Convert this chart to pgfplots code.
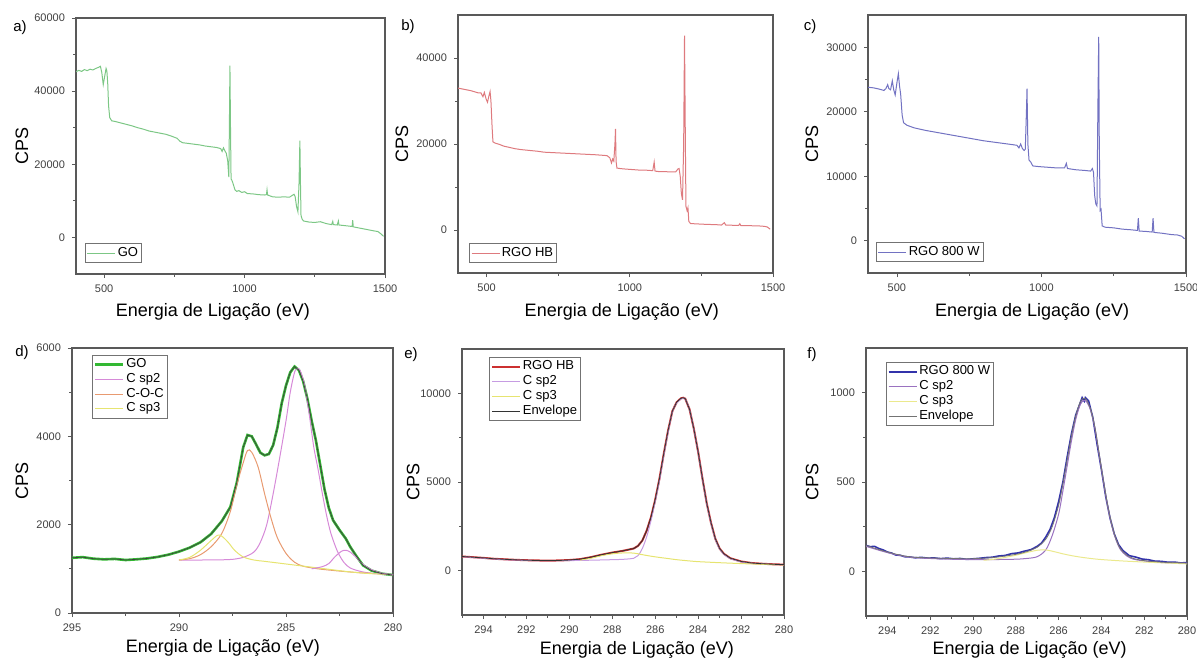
\documentclass[border=0pt]{standalone}
\usepackage{fontspec}
\setmainfont{Liberation Sans}
\usepackage{pgfplots}
\usepackage{pgfplotstable}
\pgfplotsset{compat=1.18}

\definecolor{gosv}{HTML}{7CC785}
\definecolor{hbsv}{HTML}{DE7A7E}
\definecolor{wsv}{HTML}{7272C2}
\definecolor{gogreen}{HTML}{33B833}
\definecolor{sptwo}{HTML}{D68AD8}
\definecolor{coc}{HTML}{E89A70}
\definecolor{spthree}{HTML}{E6E470}
\definecolor{hbred}{HTML}{CC3030}
\definecolor{hbsp2}{HTML}{C69CE2}
\definecolor{wblue}{HTML}{3333AA}
\definecolor{wsp2}{HTML}{9A72C0}

% C 1s spectra
\pgfplotstableread{
x y
295 1250
294.5 1265
294 1230
293.5 1215
293 1225
292.5 1200
292 1215
291.5 1235
291 1270
290.5 1320
290 1390
289.5 1480
289 1600
288.5 1790
288 2080
287.6 2400
287.3 2950
287 3750
286.8 4030
286.6 4000
286.4 3820
286.2 3630
286 3570
285.8 3600
285.6 3800
285.4 4200
285.2 4750
285 5150
284.8 5450
284.6 5580
284.4 5500
284.2 5250
284 4850
283.8 4350
283.6 3900
283.4 3350
283.2 2800
283 2380
282.8 2100
282.5 1880
282.2 1680
282 1500
281.7 1280
281.4 1080
281 960
280.5 890
280 860
}\GOcls

\pgfplotstableread{
x y
295 800
294.5 760
294 720
293.5 670
293 640
292.5 610
292 590
291.5 575
291 570
290.5 575
290 600
289.5 650
289 760
288.5 900
288 1020
287.5 1120
287 1250
286.8 1400
286.6 1700
286.4 2250
286.2 3000
286 4000
285.8 5200
285.6 6600
285.4 7900
285.2 9000
285 9500
284.8 9720
284.7 9750
284.6 9700
284.4 9100
284.2 8000
284 6700
283.8 5200
283.6 3800
283.4 2700
283.2 1800
283 1250
282.8 950
282.5 700
282 520
281.5 430
281 390
280.5 360
280 340
}\HBcls

\pgfplotstableread{
x y
295 145
294.8 138
294.6 140
294.4 128
294.2 120
294 108
293.8 102
293.6 91
293.4 90
293.2 82
293 81
292.7 76
292.4 78
292.1 74
291.8 75
291.5 71
291.2 74
290.9 70
290.6 72
290.3 67
290 70
289.7 73
289.4 77
289.1 79
288.8 86
288.5 89
288.2 99
287.9 103
287.6 113
287.3 121
287 140
286.8 158
286.6 192
286.4 235
286.2 300
286 390
285.8 500
285.6 640
285.4 770
285.2 875
285 940
284.9 972
284.85 960
284.8 952
284.75 972
284.6 955
284.4 860
284.2 710
284 570
283.8 420
283.6 300
283.4 210
283.2 150
283 117
282.7 88
282.4 80
282.1 69
281.8 65
281.5 57
281.2 56
280.9 51
280.6 52
280.3 47
280 49
}\Wcls

\pgfplotsset{
  xps/.style={
    scale only axis,
    axis line style={draw=black!65, line width=0.7pt},
    tick style={draw=black!65, line width=0.4pt},
    tick align=outside,
    major tick length=2pt, minor tick length=1.3pt,
    xtick pos=bottom, ytick pos=left,
    tick label style={font=\fontsize{5.5}{6}\selectfont, text=black!75},
    /pgf/number format/assume math mode=true,
    /pgf/number format/1000 sep={},
    scaled ticks=false,
    label style={font=\fontsize{9}{10}\selectfont},
    xlabel={Energia de Ligação (eV)}, ylabel={CPS},
    legend style={font=\fontsize{6.5}{7.5}\selectfont, draw=black!55, line width=0.4pt,
      inner sep=0.8pt, row sep=-0.5pt, nodes={inner sep=0.9pt}},
    legend cell align=left,
    legend image code/.code={\draw[##1] (0pt,0pt) -- (14pt,0pt);},
  },
  lab/.style n args={4}{
    xlabel style={at={(axis description cs:#1,0)}, anchor=center, yshift=-#2},
    ylabel style={at={(axis description cs:#3,0.5)}, anchor=center},
  },
  survey/.style={xps, xmin=400, xmax=1500, xtick={500,1000,1500}, minor xtick={750,1250}},
  cls/.style={xps, x dir=reverse, xmin=280, xmax=295},
}

\begin{document}
\begin{tikzpicture}
\useasboundingbox (0,0) rectangle (598.5pt,330pt);

% a) GO survey
\begin{axis}[survey, at={(38pt,193pt)}, anchor=south west, width=154.5pt, height=128pt,
  ymin=-10000, ymax=60000, ytick={0,20000,40000,60000}, minor ytick={10000,30000,50000},
  lab={0.443}{19pt}{-0.175}{},
  legend style={at={(axis description cs:0.029,0.043)}, anchor=south west}]
\addplot[gosv, line width=0.5pt] coordinates {
(400,45300)(410,45700)(420,45400)(430,45900)(440,45600)(450,46000)(460,45800)(470,46200)
(480,46500)(487,46800)(492,45000)(497,41800)(502,44000)(507,46200)(510,45500)(513,42000)
(516,36000)(520,32800)(527,31900)(540,31700)(560,31300)(580,30900)(600,30500)(620,30000)
(640,29600)(660,29100)(680,28800)(700,28500)(720,28200)(740,27700)(760,27100)(770,26300)
(780,25900)(800,25700)(820,25500)(840,25300)(860,25000)(880,24800)(900,24600)(915,24300)
(920,23500)(925,24500)(930,23700)(935,23000)(940,21000)(944,16500)(946,30000)(948,47000)
(950,30000)(952,16000)(955,15600)(958,15000)(962,14000)(966,13000)(972,12600)(980,12800)
(990,12300)(1000,12500)(1010,12000)(1030,11900)(1050,11700)(1070,11600)(1078,11700)
(1080,13000)(1082,11600)(1100,11100)(1120,11000)(1140,11100)(1160,11000)(1170,11500)
(1176,11800)(1180,11200)(1185,8500)(1190,7000)(1194,15000)(1197,26500)(1199,15000)
(1201,6000)(1205,5000)(1210,4500)(1230,4200)(1250,4100)(1270,4300)(1290,3800)(1310,3500)
(1314,4400)(1316,3500)(1330,3400)(1334,4500)(1336,3400)(1360,3200)(1383,3000)(1385,4700)
(1387,2900)(1400,2700)(1420,2400)(1440,2100)(1460,1800)(1475,1600)(1485,1000)(1495,300)};
\legend{GO}
\end{axis}

% b) RGO HB survey
\begin{axis}[survey, at={(229pt,193.5pt)}, anchor=south west, width=157.5pt, height=129pt,
  ymin=-10000, ymax=50000, ytick={0,20000,40000}, minor ytick={10000,30000},
  lab={0.52}{19.5pt}{-0.178}{},
  legend style={at={(axis description cs:0.035,0.039)}, anchor=south west}]
\addplot[hbsv, line width=0.5pt] coordinates {
(400,33000)(415,32800)(430,32600)(445,32400)(460,32100)(470,31900)(480,31900)(487,31000)
(492,32000)(498,30500)(503,29700)(508,31200)(512,32200)(515,30000)(519,24000)(522,20500)
(530,20200)(545,19900)(560,19500)(580,19200)(600,18900)(620,18700)(650,18500)(680,18300)
(700,18100)(730,18000)(760,17900)(790,17800)(820,17700)(850,17600)(880,17500)(900,17400)
(920,17300)(930,16800)(936,15600)(940,16500)(944,16000)(948,20000)(950,23500)(952,16000)
(955,14400)(965,14300)(980,14200)(1000,14100)(1020,14000)(1040,13900)(1060,13900)
(1080,13800)(1085,15800)(1088,13700)(1100,13600)(1120,13600)(1140,13500)(1160,13500)
(1168,14200)(1172,14300)(1176,12500)(1180,8500)(1184,7000)(1188,20000)(1191,45200)
(1194,20000)(1196,5500)(1200,4500)(1203,5200)(1206,2000)(1212,1500)(1240,1400)(1270,1300)
(1300,1250)(1320,1150)(1330,1700)(1335,1150)(1360,1100)(1380,1050)(1384,1450)(1388,1000)
(1420,1000)(1450,950)(1470,850)(1480,700)(1490,200)};
\legend{RGO HB}
\end{axis}

% c) RGO 800 W survey
\begin{axis}[survey, at={(434pt,193.5pt)}, anchor=south west, width=159pt, height=129pt,
  ymin=-5000, ymax=35000, ytick={0,10000,20000,30000}, minor ytick={5000,15000,25000},
  lab={0.516}{19.5pt}{-0.176}{},
  legend style={at={(axis description cs:0.025,0.043)}, anchor=south west}]
\addplot[wsv, line width=0.5pt] coordinates {
(400,23800)(420,23700)(440,23500)(455,23300)(462,23600)(468,24200)(472,23600)(478,23400)
(484,24800)(489,23400)(494,22600)(500,24500)(505,25900)(509,24000)(513,22700)(518,19500)
(523,18300)(535,17900)(560,17500)(600,17100)(650,16700)(700,16300)(750,15900)(800,15500)
(850,15200)(900,14900)(915,14800)(922,14400)(928,15000)(934,14300)(940,14000)(944,14200)
(948,20000)(950,23600)(953,15000)(957,12500)(963,12200)(970,11600)(990,11500)(1020,11400)
(1050,11300)(1080,11300)(1086,12000)(1090,11200)(1120,11000)(1150,10900)(1170,10800)
(1176,11200)(1180,10600)(1184,7000)(1188,5700)(1192,5400)(1195,20000)(1198,31600)
(1200,15000)(1203,4700)(1206,4900)(1210,2300)(1220,2100)(1250,2000)(1280,1800)(1310,1700)
(1332,1600)(1335,3500)(1338,1500)(1360,1450)(1383,1350)(1386,3500)(1389,1300)(1420,1150)
(1450,950)(1470,900)(1485,700)(1495,300)};
\legend{RGO 800 W}
\end{axis}

% d) GO C 1s
\begin{axis}[cls, at={(36pt,23.5pt)}, anchor=south west, width=160.5pt, height=132.5pt,
  ymin=0, ymax=6000, xtick={295,290,285,280}, minor xtick={292.5,287.5,282.5},
  ytick={0,2000,4000,6000}, minor ytick={1000,3000,5000},
  lab={0.47}{17.5pt}{-0.156}{},
  legend style={at={(axis description cs:0.062,0.974)}, anchor=north west}]
\addplot[gogreen, line width=1.3pt] table {\GOcls};
\addplot[sptwo, line width=0.5pt, smooth] coordinates {
(290,1200)(289,1200)(288,1205)(287.5,1215)(287,1260)(286.5,1380)(286.2,1600)
(285.9,2000)(285.6,2700)(285.3,3500)(285,4350)(284.8,5000)(284.6,5450)(284.45,5540)
(284.3,5450)(284.1,5080)(283.9,4450)(283.7,3750)(283.5,3250)(283.3,2700)(283.1,2200)
(282.9,1800)(282.6,1400)(282.3,1150)(282,1020)(281.5,940)(281,900)(280.5,880)(280,860)};
\addplot[coc, line width=0.5pt, smooth] coordinates {
(290,1200)(289.5,1230)(289,1320)(288.5,1500)(288,1800)(287.6,2300)(287.3,2900)(287,3400)
(286.8,3680)(286.6,3640)(286.3,3300)(286,2700)(285.7,2150)(285.4,1700)(285,1350)
(284.6,1150)(284.2,1060)(283.5,1000)(282.5,950)(281.5,910)(281,900)};
\addplot[spthree, line width=0.5pt, smooth] coordinates {
(290,1200)(289.5,1260)(289,1420)(288.5,1640)(288.2,1760)(288,1740)(287.7,1600)(287.4,1420)
(287,1270)(286.5,1200)(286,1170)(285,1110)(284,1050)(283,990)(282,930)(281,890)(280,870)};
\addplot[sptwo, line width=0.5pt, smooth, forget plot] coordinates {
(283.8,1000)(283.3,1050)(283,1120)(282.7,1280)(282.4,1400)(282.2,1420)(282,1380)
(281.7,1250)(281.4,1100)(281,980)(280.5,900)(280,870)};
\addplot[black!75, line width=0.35pt, forget plot] table {\GOcls};
\legend{GO, C sp2, C-O-C, C sp3}
\end{axis}

% e) RGO HB C 1s
\begin{axis}[cls, at={(231pt,22.5pt)}, anchor=south west, width=161pt, height=133pt,
  ymin=-2500, ymax=12500, xtick={280,282,...,294}, minor xtick={281,283,...,295},
  ytick={0,5000,10000}, minor ytick={2500,7500},
  lab={0.543}{17.5pt}{-0.152}{},
  legend style={at={(axis description cs:0.084,0.97)}, anchor=north west}]
\addplot[hbred, line width=1pt] table {\HBcls};
\addplot[hbsp2, line width=0.5pt, smooth] coordinates {
(295,790)(294,700)(293,620)(292,580)(291,560)(290,570)(289,590)(288,620)(287.5,640)
(287,700)(286.8,850)(286.6,1250)(286.4,1900)(286.2,2800)(286,3900)(285.8,5100)(285.6,6500)
(285.4,7800)(285.2,8950)(285,9450)(284.8,9680)(284.7,9720)(284.6,9680)(284.4,9080)
(284.2,7980)(284,6680)(283.8,5180)(283.6,3780)(283.4,2680)(283.2,1780)(283,1230)
(282.8,920)(282.5,680)(282,500)(281.5,420)(281,380)(280.5,350)(280,330)};
\addplot[spthree, line width=0.5pt, smooth] coordinates {
(289.5,600)(289,700)(288.5,850)(288,950)(287.5,1000)(287,990)(286.5,880)(286,780)
(285.5,700)(285,620)(284.5,560)(284,510)(283,450)(282,400)(281,360)(280,330)};
\addplot[black!80, line width=0.4pt] table {\HBcls};
\legend{RGO HB, C sp2, C sp3, Envelope}
\end{axis}

% f) RGO 800 W C 1s
\begin{axis}[cls, at={(433pt,22pt)}, anchor=south west, width=160.5pt, height=134pt,
  ymin=-250, ymax=1250, xtick={280,282,...,294}, minor xtick={281,283,...,295},
  ytick={0,500,1000}, minor ytick={250,750},
  lab={0.51}{17pt}{-0.168}{},
  legend style={at={(axis description cs:0.062,0.948)}, anchor=north west}]
\addplot[wblue, line width=0.8pt] table {\Wcls};
\addplot[wsp2, line width=0.5pt, smooth] coordinates {
(295,140)(294,105)(293,80)(292,72)(291,68)(290,66)(289,66)(288,68)(287.5,72)(287,82)
(286.6,120)(286.3,200)(286,320)(285.8,450)(285.6,590)(285.4,730)(285.2,850)(285,930)
(284.85,955)(284.7,950)(284.5,900)(284.3,800)(284.1,650)(283.9,500)(283.7,360)(283.5,250)
(283.3,170)(283.1,120)(282.8,85)(282.5,68)(282,58)(281.5,52)(281,48)(280,45)};
\addplot[spthree!80, line width=0.5pt, smooth] coordinates {
(289.5,62)(289,68)(288.5,78)(288,90)(287.5,105)(287,118)(286.6,120)(286.2,110)(285.8,98)
(285.4,88)(285,80)(284.5,72)(284,66)(283,58)(282,52)(281,47)(280,42)};
\addplot[black!55, line width=0.4pt, smooth] coordinates {
(295,145)(294,108)(293,82)(292,75)(291,72)(290,71)(289,78)(288,95)(287.5,110)(287,135)
(286.6,180)(286.3,250)(286,370)(285.8,490)(285.6,625)(285.4,760)(285.2,870)(285,945)
(284.85,968)(284.7,960)(284.5,905)(284.3,805)(284.1,655)(283.9,505)(283.7,365)(283.5,255)
(283.3,175)(283.1,125)(282.8,90)(282.5,72)(282,60)(281.5,54)(281,50)(280,46)};
\legend{RGO 800 W, C sp2, C sp3, Envelope}
\end{axis}

% panel letters
\begin{scope}[every node/.style={font=\fontsize{7.5}{8}\selectfont}]
\node at (10pt,316pt) {a)};
\node at (204pt,316.5pt) {b)};
\node at (405pt,316.5pt) {c)};
\node at (11pt,153.5pt) {d)};
\node at (205.5pt,152.5pt) {e)};
\node at (406pt,152.5pt) {f)};
\end{scope}
\end{tikzpicture}
\end{document}
